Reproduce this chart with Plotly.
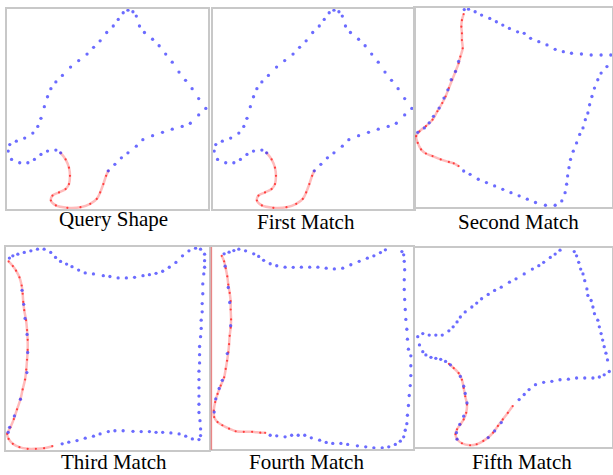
import plotly.graph_objects as go

# ---------------- data (normalised 0-100 contour coordinates) ----------------
TITLES = ["Query Shape", "First Match", "Second Match", "Third Match", "Fourth Match", "Fifth Match"]

QUERY_BLUE_X = [50.4, 53.7, 57, 60.3, 64.5, 67.8, 72.7, 77.7, 82.6, 87.6, 91.7, 95.9, 99.5, 95.9, 92.6, 89.3, 86, 82.6,
                79.3, 76, 72.7, 68.6, 66.1, 64.5, 62.8, 60.3, 57.9, 55.4, 52.9, 49.6, 46.3, 43, 39.7, 35.5, 31.4, 27.3,
                24, 21.5, 19.8, 18.2, 16.5, 14.9, 12.4, 8.3, 4.1, 0.8, 0, 1.7, 5.8, 9.9, 13.2, 16.5, 19.8, 24, 26.4]
QUERY_BLUE_Y = [18.7, 22, 25.3, 27.8, 31.2, 34.5, 36.5, 38.2, 39.8, 41.2, 42.8, 47, 50.3, 55.3, 60.3, 64.5, 68.7, 73.7,
                77.8, 82, 85.3, 88.7, 92, 97, 99.2, 100, 98.7, 95.3, 92, 88.7, 84.5, 81.2, 77.8, 74.5, 71.2, 67,
                63.7, 60.3, 56.2, 51.2, 45.3, 41.2, 37.8, 35.3, 33.7, 32, 28.7, 24.5, 22.8, 22.8, 24.5, 27, 28.7, 29.2, 27.8]
QUERY_RED_X = [26.4, 28.9, 30.6, 31.1, 30.6, 28.9, 25.6, 22.3, 21.5, 24, 29.8, 36.4, 41.3, 44.6, 46.3, 47.9, 49.3, 50.4]
QUERY_RED_Y = [27.8, 24.5, 20.3, 16.2, 12, 9.5, 7.8, 6.2, 3.7, 1.2, 0, 0.3, 2, 4.5, 7.8, 12, 16.2, 18.7]
QUERY_OVER_X = []
QUERY_OVER_Y = []

FIRST_BLUE_X = list(QUERY_BLUE_X)
FIRST_BLUE_Y = list(QUERY_BLUE_Y)
FIRST_RED_X = list(QUERY_RED_X)
FIRST_RED_Y = list(QUERY_RED_Y)
FIRST_OVER_X = []
FIRST_OVER_Y = []

SECOND_BLUE_X = [24.4, 27.7, 31.9, 36.1, 40.3, 44.5, 48.7, 52.9, 57.1, 61.3, 66.4, 71.4, 74.8, 76.5, 77.3, 77.8, 78.5,
                 79.3, 80.7, 82.4, 84, 85.7, 86.9, 88.2, 89.1, 90.3, 91.6, 93.3, 95, 98, 100, 95, 89.9, 84.9, 79.8,
                 75.6, 71.4, 67.2, 63, 58.8, 55.5, 52.1, 47.9, 44.5, 41.2, 37.8, 33.6, 30.3, 26.9, 24.7]
SECOND_BLUE_Y = [17.7, 16, 13.5, 11.8, 10.1, 8.4, 6.7, 5.1, 3.4, 1.7, 0.3, 0.3, 2.5, 6.7, 11, 15.2, 19.4,
                 23.6, 27.8, 32, 36.3, 39.6, 43.8, 47.2, 51.4, 55.6, 59.9, 64.1, 67.5, 70.8, 76.7, 76.7, 76.7, 77.2, 77.6,
                 78.4, 79.6, 81.8, 83.5, 85.2, 87.7, 88.5, 90.2, 91.9, 93.6, 95.3, 97, 98.7, 100, 99.8]
SECOND_RED_X = [24.4, 23.5, 23.2, 23.5, 23.5, 23.9, 22.7, 21.8, 20.2, 18.5, 16.8, 15.1, 13.4, 10.9, 8.4, 5, 1.7, 0,
                0.8, 2.5, 5, 8.4, 12.6, 16.8, 19.3, 21.8]
SECOND_RED_Y = [97.5, 94.4, 91.1, 87.7, 84.3, 80.1, 75.9, 72.5, 68.3, 64.1, 59.9, 55.6, 52.3, 48.1, 43.8, 40.5, 37.9,
                35.4, 32, 28.7, 26.6, 25.3, 23.6, 22.3, 21.6, 20.2]
SECOND_OVER_X = [21.8, 20.2, 18, 16.3, 14.3, 11.8, 8.9, 6.7, 4.2, 0.8]
SECOND_OVER_Y = [73.4, 68.3, 64.1, 59, 54.8, 49.7, 45.5, 42.2, 39.6, 37.4]

THIRD_BLUE_X = [27.4, 30.7, 34.8, 38.9, 43, 46.3, 50.4, 53.7, 57.8, 62.7, 66.8, 70.9, 74.2, 77.5, 81.6, 85.7, 89, 92.3,
                95.6, 96.4, 96.4, 96.1, 95.6, 95.6, 95.6, 95.6, 95.6, 95.6, 95.9, 95.9, 95.9, 96.4, 96.7, 96.7, 97.2,
                97.2, 97.5, 97.5, 98, 98.4, 98.4, 98.4, 96.4, 93.9, 90.6, 87.4, 84.1, 80.8, 77.5, 74.2, 70.9, 67.7,
                63.5, 59.4, 55.3, 51.2, 47.9, 43, 38.9, 35.6, 32.3, 29.6, 26.6, 24.1, 21.7, 18.4, 15.1, 11.8, 8.5,
                5.3, 2.8, 1.1]
THIRD_BLUE_Y = [2.5, 3.3, 4.1, 5.3, 6.3, 7.4, 8.6, 9, 9, 8.7, 8.6, 8.6, 8.2, 8.2, 7.9, 7.4, 6.3, 4.9,
                4.6, 6.6, 9.9, 14, 18.1, 22.2, 26.3, 30.4, 34.5, 38.7, 42.8, 46.9, 51, 55.9, 60, 64.1, 68.3,
                72.4, 77.3, 82.2, 87.2, 90.5, 93.8, 97, 99.5, 100, 98.7, 96.2, 92.9, 90.5, 88.5, 87.5, 86.8, 86.3,
                85.5, 85.2, 85.2, 85.9, 86.3, 87.2, 87.7, 89.1, 90.8, 92.1, 93.4, 95.4, 97.9, 99.5, 99.5, 98.7, 97.9,
                97, 96.2, 95.1]
THIRD_RED_X = [0.7, 2.8, 4.4, 6.1, 7.2, 7.7, 8, 8.5, 9.4, 9.9, 10.2, 10.2, 9.9, 9.5, 8.9, 7.7, 6.6, 4.9, 3.3, 1.6, 0,
               0.7, 2.8, 6.1, 10.2, 14.3, 18.4, 22.5]
THIRD_RED_Y = [93.4, 91.1, 88.8, 85.5, 81.4, 77.3, 73.2, 69.1, 64.1, 59.2, 54.3, 49.3, 44.4, 39.5, 34.5, 29.6, 24.7,
               19.7, 14.8, 10.7, 7.4, 4.9, 2.5, 0.8, 0, 0, 0.3, 1.3]
THIRD_OVER_X = [7.4, 8.2, 8.9, 9.9, 10.2, 9.8, 6.6, 3.6, 1.2, 0.5]
THIRD_OVER_Y = [79, 72, 65, 57, 48, 38, 24.7, 16.4, 10.7, 8.2]

FOURTH_BLUE_X = [28.7, 32, 36.2, 39.5, 42.8, 46.1, 49.4, 53.6, 56.9, 60.2, 64.3, 67.7, 72.6, 76.8, 80.9, 85.1, 88.4,
                 91.7, 94.2, 95.9, 96.7, 97.5, 97.8, 98.3, 98.7, 99.2, 99.5, 99.5, 99.5, 98.3, 97.8, 97.5, 97, 96.7,
                 96.4, 96.2, 96.2, 96.4, 96.2, 95.9, 95, 86.7, 84.2, 80.9, 77.6, 73.5, 69.3, 65.2, 61, 56.9, 52.7,
                 48.6, 44.4, 40.3, 36.2, 32, 28.7, 25.4, 22.9, 20.4, 16.3, 12.9, 10.4, 8, 5.5]
FOURTH_BLUE_Y = [6.3, 6, 5.5, 6.3, 6.3, 6.3, 5, 3.8, 2.7, 2.2, 2.2, 1.7, 1, 0.5, 0, 0, 0.5,
                 1.7, 3.3, 5.5, 8.8, 12.1, 16.3, 21.2, 26.2, 31.2, 36.2, 41.1, 46.1, 49.4, 54.4, 59.4, 64.3, 69.3,
                 74.3, 79.3, 84.2, 89.2, 93.4, 96.7, 98.3, 99.2, 97.8, 96.2, 95, 93.4, 91.7, 90, 89.6, 90, 90.5,
                 90.5, 90.5, 90.4, 90.5, 91.2, 92.2, 93.9, 95.9, 97.2, 98.7, 99.5, 98.8, 98, 97.2]
FOURTH_RED_X = [4.3, 5.5, 6.3, 7.1, 7.6, 8.3, 8.8, 8.8, 9, 8.8, 8.3, 8, 7.6, 7, 6.3, 5.5, 3.8, 2.2, 1, 0.3, 0.5, 2.2,
                4.6, 8, 11.3, 15.4, 19.6, 23.7, 26.2]
FOURTH_RED_Y = [96.2, 93.4, 90, 85.9, 81.8, 77.6, 73.5, 69.3, 64.3, 60.2, 56.1, 51.9, 47.8, 43.6, 39.5, 35.3, 31.2,
                27, 22.9, 18.7, 15.4, 12.9, 11.3, 9.6, 8.3, 8, 8, 7.6, 7.5]
FOURTH_OVER_X = [6, 7.6, 8.3, 8.8, 7.1, 4.6, 3, 1.3, 0.5]
FOURTH_OVER_Y = [91, 80.3, 72.8, 61.2, 47.2, 33.8, 29.7, 24.5, 17.9]

FIFTH_BLUE_X = [52.9, 55.5, 58, 61.3, 65.5, 69.7, 73.9, 78.2, 82.4, 86.6, 90.8, 94.1, 96.6, 99.2, 98.3, 97.5, 96.6,
                95.8, 95, 94.1, 93.3, 91.6, 90.8, 89.9, 88.2, 87.7, 86.6, 85.7, 84.5, 83.5, 82.4, 81.2, 73.9, 71.4,
                68.9, 65.5, 63, 59.7, 55.5, 51.3, 47.9, 43.7, 40.3, 37, 33.6, 31.1, 28.6, 25.2, 22.7, 21, 19, 16.8,
                13.4, 10.1, 6.7, 3.4, 0.8, 1.7, 3.4, 5, 7.6, 10.1, 12.6, 15.1]
FIFTH_BLUE_Y = [23.5, 26.1, 28.6, 31.1, 32.3, 32.8, 33.6, 33.9, 34.5, 34.5, 34.5, 35, 36.1, 37.8, 43.7, 47.1, 50.4,
                53.8, 57.1, 60.5, 63.9, 67.2, 70.6, 73.9, 76.5, 79.8, 84, 87.4, 89.9, 93.3, 96.6, 98.8, 99.5, 97.5,
                95.8, 93.3, 91.6, 89.9, 87.4, 84.9, 83.2, 80.7, 79, 77, 74.8, 72.6, 70.6, 68.1, 65.5, 63, 60.5, 58.5,
                56.3, 56.3, 56.3, 57.1, 55.5, 51.3, 47.9, 46.2, 45, 44.5, 44, 42.9]
FIFTH_RED_X = [16.8, 19.3, 21.8, 23.5, 24.4, 25.2, 26.1, 25.7, 24.4, 22.7, 21, 20.2, 21, 23.5, 27.7, 31.1, 34.5, 37,
               39.5, 42, 44.5, 47.1, 49.6]
FIFTH_RED_Y = [41.7, 39.5, 37, 33.6, 29.4, 25.2, 21, 16.8, 13.4, 10.9, 8.4, 5.9, 3.4, 1.3, 0.3, 0.8, 2.5, 4.2, 6.7,
               10.1, 13.4, 16.8, 20.2]
FIFTH_OVER_X = [17.6, 22.7, 24.4, 25.2, 26.1, 24.4, 22.4, 20.7, 21, 37, 40.3, 43.7]
FIFTH_OVER_Y = [41.2, 35.3, 30.3, 26.6, 21.8, 15.1, 10.9, 6.7, 3.4, 4.2, 7.6, 11.8]

PANELS = [
    (QUERY_BLUE_X, QUERY_BLUE_Y, QUERY_RED_X, QUERY_RED_Y, QUERY_OVER_X, QUERY_OVER_Y),
    (FIRST_BLUE_X, FIRST_BLUE_Y, FIRST_RED_X, FIRST_RED_Y, FIRST_OVER_X, FIRST_OVER_Y),
    (SECOND_BLUE_X, SECOND_BLUE_Y, SECOND_RED_X, SECOND_RED_Y, SECOND_OVER_X, SECOND_OVER_Y),
    (THIRD_BLUE_X, THIRD_BLUE_Y, THIRD_RED_X, THIRD_RED_Y, THIRD_OVER_X, THIRD_OVER_Y),
    (FOURTH_BLUE_X, FOURTH_BLUE_Y, FOURTH_RED_X, FOURTH_RED_Y, FOURTH_OVER_X, FOURTH_OVER_Y),
    (FIFTH_BLUE_X, FIFTH_BLUE_Y, FIFTH_RED_X, FIFTH_RED_Y, FIFTH_OVER_X, FIFTH_OVER_Y),
]

# ---------------- layout geometry (paper fractions) ----------------
W, H = 613, 475
X_DOMAINS = [(7, 208), (213, 414), (415, 612), (6, 209), (212, 413), (415, 612)]
Y_DOMAINS = [(9, 209), (9, 209), (8, 207), (247, 450), (247, 449), (248, 447)]
TITLE_POS = [(113, 219), (306, 222), (518, 222), (114, 462), (306, 462), (522, 462)]

BLUE = "rgba(70,70,255,0.8)"
RED_LINE = "rgba(255,60,60,0.35)"
RED_DOT = "rgba(255,30,30,0.8)"
BORDER = "#c8c8c8"

fig = go.Figure()
layout = {}
for i, (bx, by, rx, ry, ox, oy) in enumerate(PANELS):
    n = "" if i == 0 else str(i + 1)
    xa, ya = "x" + n, "y" + n
    fig.add_trace(go.Scatter(x=rx, y=ry, xaxis=xa, yaxis=ya, mode="lines+markers",
                             line=dict(color=RED_LINE, width=2.5, shape="spline"),
                             marker=dict(color=RED_DOT, size=2.2), cliponaxis=False,
                             showlegend=False, hoverinfo="skip"))
    fig.add_trace(go.Scatter(x=bx + ox, y=by + oy, xaxis=xa, yaxis=ya, mode="markers",
                             marker=dict(color=BLUE, size=3.3), cliponaxis=False,
                             showlegend=False, hoverinfo="skip"))
    x0, x1 = X_DOMAINS[i]
    y0, y1 = Y_DOMAINS[i]
    ax = dict(showgrid=False, zeroline=False, showticklabels=False, ticks="",
              showline=True, linecolor=BORDER, linewidth=2, mirror=True, fixedrange=True)
    layout["xaxis" + n] = dict(ax, domain=[x0 / W, x1 / W], range=[-0.6, 100.6], anchor=ya)
    layout["yaxis" + n] = dict(ax, domain=[1 - y1 / H, 1 - y0 / H], range=[-0.6, 100.6], anchor=xa)

annotations = []
for t, (cx, cy) in zip(TITLES, TITLE_POS):
    annotations.append(dict(text=t, x=cx / W, y=1 - cy / H, xref="paper", yref="paper",
                            xanchor="center", yanchor="middle", showarrow=False,
                            font=dict(family="Liberation Serif", size=21, color="#000000")))

fig.update_layout(**layout)
fig.update_layout(
    width=W, height=H,
    margin=dict(l=0, r=0, t=0, b=0),
    paper_bgcolor="white", plot_bgcolor="white",
    annotations=annotations,
    shapes=[dict(type="line", xref="x4 domain", yref="y4 domain", x0=1.012, x1=1.012, y0=0, y1=1,
                 line=dict(color="rgba(255,90,90,0.6)", width=1.5))],
)

fig.write_html("out.html", config={"displayModeBar": False},
               post_script="document.body.style.margin='0';document.body.style.overflow='hidden';")
